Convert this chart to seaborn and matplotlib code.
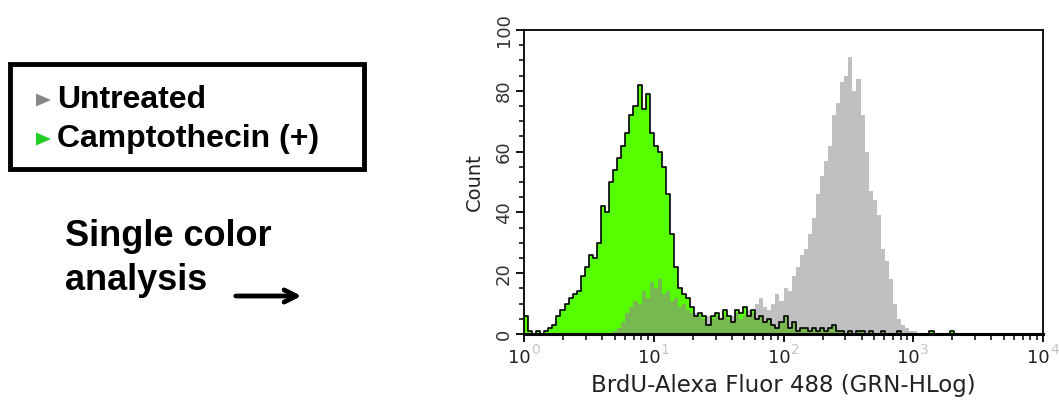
"""Flow cytometry overlay histogram: BrdU-Alexa Fluor 488"""
import numpy as np
import seaborn as sns
import matplotlib.pyplot as plt
from matplotlib.patches import Rectangle, Polygon

# 128 log bins over 10^0 .. 10^4 (32 bins per decade)
DECADES = (0, 4)
BINS_PER_DECADE = 32

camptothecin = [
    6, 1, 0, 1, 0, 1, 2, 3, 6, 8, 10, 12, 13, 14, 19, 22,
    26, 25, 30, 42, 40, 50, 54, 58, 62, 66, 72, 75, 82, 74, 79, 66,
    62, 60, 55, 46, 33, 22, 15, 13, 12, 9, 6, 7, 6, 3, 6, 7,
    5, 8, 6, 4, 8, 7, 9, 6, 8, 5, 6, 4, 5, 3, 2, 4,
    6, 2, 4, 1, 2, 2, 1, 2, 1, 2, 1, 2, 3, 1, 1, 0,
    1, 0, 1, 1, 0, 1, 0, 0, 1, 0, 0, 0, 1, 0, 0, 0,
    0, 0, 0, 0, 1, 0, 0, 0, 0, 1, 0, 0, 0, 0, 0, 0,
    0, 0, 0, 0, 0, 0, 0, 0, 0, 0, 0, 0, 0, 0, 0, 0,
]
untreated = [
    0, 0, 0, 0, 0, 0, 0, 0, 0, 0, 0, 0, 0, 0, 0, 0,
    0, 0, 0, 0, 0, 0, 1, 2, 4, 7, 9, 11, 10, 14, 12, 17,
    15, 18, 13, 14, 11, 12, 9, 10, 8, 7, 7, 6, 5, 6, 5, 6,
    5, 6, 5, 6, 7, 5, 6, 8, 7, 10, 12, 9, 8, 10, 13, 11,
    15, 14, 19, 22, 26, 28, 33, 38, 46, 52, 57, 62, 72, 76, 83, 85,
    91, 80, 84, 72, 60, 47, 44, 39, 28, 24, 18, 10, 5, 3, 2, 1,
    1, 0, 0, 0, 0, 0, 0, 0, 0, 0, 0, 0, 0, 0, 0, 0,
    0, 0, 0, 0, 0, 0, 0, 0, 0, 0, 0, 0, 0, 0, 0, 0,
]
legend_labels = ["Untreated", "Camptothecin (+)"]
x_ticks = [1, 10, 100, 1000, 10000]
y_ticks = [0, 20, 40, 60, 80, 100]

GREEN = "#55ff00"
GRAY = "#c0c0c0"
OVERLAP = "#78b850"
AXIS_FONT = "DejaVu Sans"
SIDE_FONT = "Liberation Sans"

n_bins = len(camptothecin)
centers = 10 ** ((np.arange(n_bins) + 0.5) / BINS_PER_DECADE)
campto = np.array(camptothecin, dtype=float)
untr = np.array(untreated, dtype=float)
overlap = np.minimum(campto, untr)

sns.set_style("white")
plt.rcParams["font.family"] = [AXIS_FONT]

fig = plt.figure(figsize=(10.59, 4.05), dpi=100)
ax = fig.add_axes([0.4948, 0.1753, 0.4901, 0.7506])

hist_kw = dict(x=centers, bins=n_bins, binrange=DECADES, log_scale=True,
               element="step", ax=ax)
sns.histplot(weights=untr, fill=True, color=GRAY, alpha=1, linewidth=0, **hist_kw)
sns.histplot(weights=campto, fill=True, color=GREEN, alpha=1, linewidth=0, **hist_kw)
sns.histplot(weights=overlap, fill=True, color=OVERLAP, alpha=1, linewidth=0, **hist_kw)
sns.histplot(weights=campto, fill=False, color="black", linewidth=1.2, **hist_kw)

ax.set_xlim(1, 10000)
ax.set_ylim(0, 100)
for s in ax.spines.values():
    s.set_visible(True)
    s.set_color("black")
    s.set_linewidth(1.3)
ax.spines["bottom"].set_linewidth(2.2)

ax.set_xticks(x_ticks)
ax.set_xticklabels([])
ax.tick_params(axis="x", which="major", direction="out", length=6, width=1.3,
               color="black", bottom=True)
ax.tick_params(axis="x", which="minor", direction="out", length=4.5, width=1.1,
               color="black", bottom=True)
for k, v in enumerate(x_ticks):
    ax.annotate("10", xy=(v, 0), xycoords=("data", "axes fraction"),
                xytext=(-3.2, -17), textcoords="offset points",
                ha="center", va="center", fontsize=13, color="#222222")
    ax.annotate(str(k), xy=(v, 0), xycoords=("data", "axes fraction"),
                xytext=(8.3, -11.5), textcoords="offset points",
                ha="center", va="center", fontsize=10, color="#c4c4c4")

ax.set_yticks(y_ticks)
ax.set_yticks(np.arange(0, 101, 5), minor=True)
ax.tick_params(axis="y", which="major", direction="out", length=6, width=1.3,
               color="black", left=True, labelsize=13, labelcolor="#333333",
               pad=2)
ax.tick_params(axis="y", which="minor", direction="out", length=3.5, width=1.1,
               color="black", left=True)
for lab in ax.get_yticklabels():
    lab.set_rotation(90)
    lab.set_va("center")

ax.set_xlabel("BrdU-Alexa Fluor 488 (GRN-HLog)", fontsize=16.5, color="#222222",
              labelpad=19)
ax.set_ylabel("Count", fontsize=14, color="#222222", labelpad=8)

# left panel: legend box and annotation
W, H = 1059.0, 405.0
def fx(px):
    return px / W
def fy(py):
    return 1 - py / H

fig.patches.append(Rectangle((fx(10), fy(169)), fx(354), 105 / H,
                             transform=fig.transFigure, fill=False,
                             edgecolor="black", linewidth=3.5))
for label, color, ycen in zip(legend_labels, ["#888888", "#22cc22"], [100, 139]):
    tri = Polygon([(fx(36), fy(ycen - 6.5)), (fx(36), fy(ycen + 6.5)),
                   (fx(51), fy(ycen))], closed=True, transform=fig.transFigure,
                  facecolor=color, edgecolor="none")
    fig.patches.append(tri)
    fig.text(fx(57), fy(ycen), label, fontsize=23, fontweight="bold",
             family=SIDE_FONT, va="center", ha="left", color="black")

fig.text(fx(65), fy(237), "Single color", fontsize=26, fontweight="bold",
         family=SIDE_FONT, va="center", ha="left", color="black")
fig.text(fx(65), fy(280), "analysis", fontsize=26, fontweight="bold",
         family=SIDE_FONT, va="center", ha="left", color="black")
fig.add_artist(plt.annotate("", xy=(fx(304), fy(296)), xytext=(fx(233), fy(296)),
                            xycoords="figure fraction",
                            arrowprops=dict(arrowstyle="->", lw=3.2,
                                            color="black",
                                            mutation_scale=22)))

fig.savefig("out.png", dpi=100)
